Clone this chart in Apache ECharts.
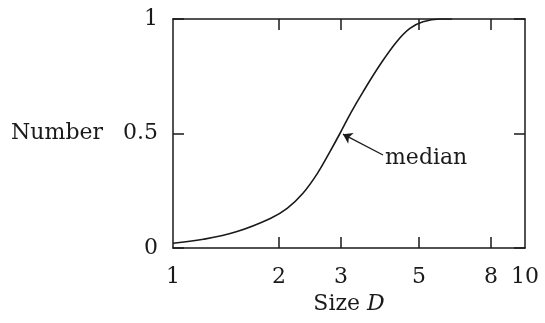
<!DOCTYPE html>
<html>
<head>
<meta charset="utf-8">
<script src="https://cdn.jsdelivr.net/npm/echarts@6/dist/echarts.min.js"></script>
<style>
  html, body { margin: 0; padding: 0; background: #ffffff; }
  #chart { width: 545px; height: 323px; }
</style>
</head>
<body>
<div id="chart"></div>
<script>
// Cumulative fraction of items versus size D (log scale)
const sizeD = [1.0, 1.22, 1.52, 1.89, 2.11, 2.34, 2.57, 2.79, 2.98, 3.2, 3.47, 3.87, 4.32, 4.71, 5.13, 5.73, 6.2];
const numberFrac = [0.021, 0.038, 0.072, 0.129, 0.173, 0.239, 0.325, 0.42, 0.5, 0.59, 0.683, 0.799, 0.901, 0.959, 0.988, 1.0, 1.0];

const xTicks = [1, 2, 3, 5, 8, 10];
const yTicks = [0, 0.5, 1];

// Median annotation: arrow from the label to the curve
const medianTip = [3.04, 0.497];
const medianLabelAt = [3.95, 0.406];
const medianText = 'median';

const ink = '#1a1a1a';
const font = 'DejaVu Serif';

const series = sizeD.map((d, i) => [d, numberFrac[i]]);

const chart = echarts.init(document.getElementById('chart'), null, { renderer: 'canvas' });

const commonX = {
  type: 'log',
  logBase: 10,
  min: xTicks[0],
  max: xTicks[xTicks.length - 1],
  axisLine: { show: true, onZero: false, lineStyle: { color: ink, width: 1.5 } },
  splitLine: { show: false },
  minorTick: { show: false }
};
const commonY = {
  type: 'value',
  min: yTicks[0],
  max: yTicks[yTicks.length - 1],
  interval: 0.5,
  axisLine: { show: true, onZero: false, lineStyle: { color: ink, width: 1.5 } },
  splitLine: { show: false }
};
const innerTicks = xTicks.slice(1, -1);

chart.setOption({
  animation: false,
  backgroundColor: '#ffffff',
  grid: { left: 173, right: 20, top: 19, bottom: 75, containLabel: false },
  xAxis: [
    Object.assign({}, commonX, {
      position: 'bottom',
      name: 'Size {i|D}',
      nameLocation: 'middle',
      nameGap: 45,
      nameTextStyle: {
        fontFamily: font, fontSize: 22, color: ink,
        rich: { i: { fontFamily: font, fontStyle: 'italic', fontSize: 22, color: ink } }
      },
      axisTick: { show: true, inside: true, length: 11, customValues: innerTicks, lineStyle: { color: ink, width: 1.5 } },
      axisLabel: {
        customValues: xTicks,
        margin: 18,
        fontFamily: font, fontSize: 22, color: ink,
        formatter: v => String(Math.round(v))
      }
    }),
    Object.assign({}, commonX, {
      position: 'top',
      axisTick: { show: true, inside: true, length: 11, customValues: innerTicks, lineStyle: { color: ink, width: 1.5 } },
      axisLabel: { show: false }
    })
  ],
  yAxis: [
    Object.assign({}, commonY, {
      position: 'left',
      name: 'Number',
      nameLocation: 'middle',
      nameRotate: 0,
      nameGap: 70,
      nameTextStyle: { fontFamily: font, fontSize: 22, color: ink },
      axisTick: { show: true, inside: true, length: 11, lineStyle: { color: ink, width: 1.5 } },
      axisLabel: {
        margin: 15,
        fontFamily: font, fontSize: 22, color: ink,
        formatter: v => String(v)
      }
    }),
    Object.assign({}, commonY, {
      position: 'right',
      axisTick: { show: true, inside: true, length: 11, lineStyle: { color: ink, width: 1.5 } },
      axisLabel: { show: false }
    })
  ],
  series: [{
    type: 'line',
    xAxisIndex: 0,
    yAxisIndex: 0,
    data: series,
    smooth: 0.4,
    showSymbol: false,
    symbol: 'none',
    lineStyle: { color: ink, width: 1.6 },
    markLine: {
      silent: true,
      symbol: ['none', 'arrow'],
      symbolSize: 9,
      label: { show: false },
      lineStyle: { color: ink, width: 1.3, type: 'solid' },
      data: [[{ coord: medianLabelAt }, { coord: medianTip }]]
    },
    markPoint: {
      silent: true,
      symbol: 'circle',
      symbolSize: 0,
      label: {
        show: true,
        position: 'right',
        distance: 2,
        offset: [0, 3],
        formatter: medianText,
        fontFamily: font, fontSize: 22, color: ink
      },
      data: [{ coord: medianLabelAt }]
    }
  }]
});
</script>
</body>
</html>
